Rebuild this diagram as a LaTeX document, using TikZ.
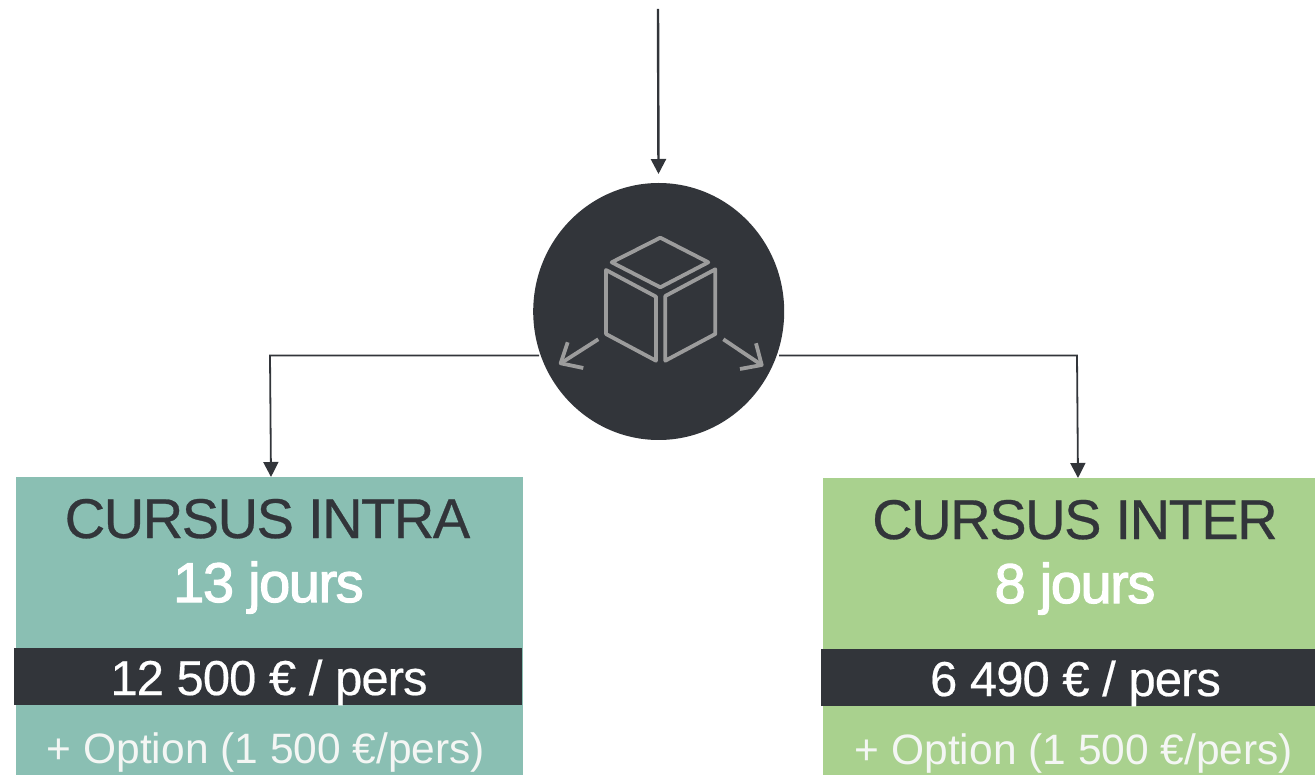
\documentclass[tikz,border=0pt]{standalone}
\usepackage{fontspec}
\setmainfont{Liberation Sans}
\newfontfamily\titlefont[LetterSpace=-2.6,FakeBold=0.5]{Liberation Sans}
\newfontfamily\daysfont[LetterSpace=-2.6,FakeBold=2]{Liberation Sans}
\newfontfamily\pricefont[LetterSpace=-2.0,FakeBold=0.4]{Liberation Sans}
\usetikzlibrary{arrows.meta,shapes.geometric}
\definecolor{darkc}{HTML}{32353A}
\definecolor{tealc}{HTML}{8ABFB3}
\definecolor{greenc}{HTML}{A9D18E}
\definecolor{iconc}{HTML}{9C9C9C}
\definecolor{optc}{HTML}{F4F6F4}
\tikzset{
  panel/.style={rectangle,inner sep=0pt,outer sep=0pt,anchor=north west},
  band/.style={panel,fill=darkc,minimum height=57pt},
  title/.style={anchor=base,inner sep=0pt,text=darkc,font=\titlefont\fontsize{56}{56}\selectfont},
  days/.style={anchor=base,inner sep=0pt,text=white,font=\daysfont\fontsize{56}{56}\selectfont},
  price/.style={anchor=base,inner sep=0pt,text=white,font=\pricefont\fontsize{49}{49}\selectfont},
  option/.style={anchor=base,inner sep=0pt,text=optc,font=\fontsize{42.5}{42.5}\selectfont},
  conn/.style={draw=darkc,line width=1.8pt,-{Triangle[length=15pt,width=15pt]}},
  icon/.style={draw=iconc,line width=3.8pt,line join=round},
}
\begin{document}
\begin{tikzpicture}[x=1pt,y=-1pt]
\useasboundingbox (0,0) rectangle (1315,775);
\node[panel,fill=tealc,minimum width=507pt,minimum height=298pt] (intra) at (16,477) {};
\node[panel,fill=greenc,minimum width=492pt,minimum height=297pt] (inter) at (823,478) {};
\node[band,minimum width=508pt] (intraband) at (14,648) {};
\node[band,minimum width=494pt] (interband) at (821,649) {};
\node[title] (t1) at (267.5,538) {CURSUS INTRA};
\node[days] (d1) at (268.5,602) {13 jours};
\node[price] (p1) at (269,695) {12 500 € / pers};
\node[option] (o1) at (266,763) {+ Option (1 500 €/pers)};
\node[title] (t2) at (1075,539) {CURSUS INTER};
\node[days] (d2) at (1075,603) {8 jours};
\node[price] (p2) at (1075.5,696) {6 490 € / pers};
\node[option] (o2) at (1074,764) {+ Option (1 500 €/pers)};
\node[ellipse,fill=darkc,minimum width=251pt,minimum height=257pt,inner sep=0pt,outer sep=0pt] (hub) at (658.7,311.5) {};
% icon
\draw[icon] (660.3,237.7) -- (708.3,262.3) -- (660.3,287.3) -- (611.7,262.3) -- cycle;
\draw[icon] (606,270) -- (656,296.7) -- (656,360.7) -- (606,334) -- cycle;
\draw[icon] (715.3,269.3) -- (665.3,296) -- (665.3,360.7) -- (715.3,334) -- cycle;
\draw[icon] (598.3,339.3) -- (560.7,363.3);
\draw[icon] (567.7,342.3) -- (560.7,363.3) -- (583.3,368);
\draw[icon] (723.3,339.3) -- (761.7,365);
\draw[icon] (756,343.3) -- (761.7,365) -- (740,369);
% connectors
\coordinate (topstart) at (658,9);
\coordinate (hubtop) at (658.5,174);
\coordinate (lstart) at (539,355.5);
\coordinate (lelbow) at (270,355.5);
\coordinate (ltip) at (271,477);
\coordinate (rstart) at (779,355.5);
\coordinate (relbow) at (1077,355.5);
\coordinate (rtip) at (1078,478);
\draw[conn,line width=2.4pt] (topstart) -- (hubtop);
\draw[conn] (lstart) -- (lelbow) -- (ltip);
\draw[conn] (rstart) -- (relbow) -- (rtip);
\end{tikzpicture}
\end{document}
